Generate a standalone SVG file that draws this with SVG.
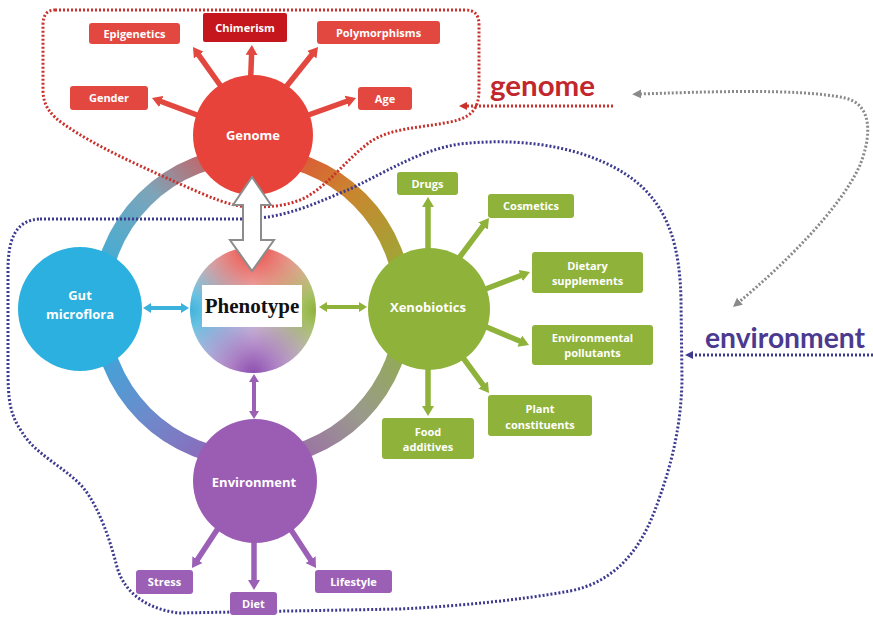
<svg xmlns="http://www.w3.org/2000/svg" width="873" height="626" viewBox="0 0 873 626">
<defs>
<style>
.lbl{font-family:"Open Sans","Liberation Sans",sans-serif;font-weight:bold;font-size:11px;fill:#fff;text-anchor:middle}
.node{font-family:"Open Sans","Liberation Sans",sans-serif;font-weight:bold;font-size:13px;fill:#fff;text-anchor:middle}
.ring{fill:none;stroke-width:17}
.dot{fill:none;stroke-width:3;stroke-dasharray:2 2}
.arr{stroke-width:5.5;fill:none}
.darr{stroke-width:4;fill:none}
.rbox{fill:#e2483f}
.gbox{fill:#8fb23a}
.pbox{fill:#9b5fb6}
</style>
<linearGradient id="gTL" gradientUnits="userSpaceOnUse" x1="100" y1="307" x2="252" y2="155"><stop offset="0" stop-color="#2bb0df"/><stop offset="0.55" stop-color="#7ea4b8"/><stop offset="1" stop-color="#e8433b"/></linearGradient>
<linearGradient id="gTR" gradientUnits="userSpaceOnUse" x1="252" y1="155" x2="404" y2="307"><stop offset="0" stop-color="#e8433b"/><stop offset="0.45" stop-color="#c9862e"/><stop offset="1" stop-color="#8fb23a"/></linearGradient>
<linearGradient id="gBR" gradientUnits="userSpaceOnUse" x1="404" y1="307" x2="252" y2="459"><stop offset="0" stop-color="#8fb23a"/><stop offset="0.5" stop-color="#9a9a8c"/><stop offset="1" stop-color="#9b5cb4"/></linearGradient>
<linearGradient id="gBL" gradientUnits="userSpaceOnUse" x1="252" y1="459" x2="100" y2="307"><stop offset="0" stop-color="#9b5cb4"/><stop offset="0.5" stop-color="#6b8ccc"/><stop offset="1" stop-color="#2bb0df"/></linearGradient>
<radialGradient id="phR" gradientUnits="userSpaceOnUse" cx="253" cy="247" r="75"><stop offset="0" stop-color="#e8433b"/><stop offset="1" stop-color="#e8433b" stop-opacity="0"/></radialGradient>
<radialGradient id="phG" gradientUnits="userSpaceOnUse" cx="316" cy="310" r="70"><stop offset="0" stop-color="#8fb23a"/><stop offset="1" stop-color="#8fb23a" stop-opacity="0"/></radialGradient>
<radialGradient id="phP" gradientUnits="userSpaceOnUse" cx="253" cy="373" r="75"><stop offset="0" stop-color="#8e4fb0"/><stop offset="1" stop-color="#8e4fb0" stop-opacity="0"/></radialGradient>
<radialGradient id="phC" gradientUnits="userSpaceOnUse" cx="190" cy="310" r="70"><stop offset="0" stop-color="#3fb3dc"/><stop offset="1" stop-color="#3fb3dc" stop-opacity="0"/></radialGradient>
<clipPath id="phClip"><circle cx="253" cy="310" r="63"/></clipPath>
<marker id="mR" viewBox="0 0 10 12" refX="1" refY="6" markerWidth="10" markerHeight="12" markerUnits="userSpaceOnUse" orient="auto"><path d="M0,0 L10,6 L0,12 Z" fill="#e2483f"/></marker>
<marker id="mG" viewBox="0 0 10 12" refX="1" refY="6" markerWidth="10" markerHeight="12" markerUnits="userSpaceOnUse" orient="auto"><path d="M0,0 L10,6 L0,12 Z" fill="#8fb23a"/></marker>
<marker id="mP" viewBox="0 0 10 12" refX="1" refY="6" markerWidth="10" markerHeight="12" markerUnits="userSpaceOnUse" orient="auto"><path d="M0,0 L10,6 L0,12 Z" fill="#9b5fb6"/></marker>
<marker id="dC" viewBox="0 0 8 10" refX="0.5" refY="5" markerWidth="8" markerHeight="10" markerUnits="userSpaceOnUse" orient="auto-start-reverse"><path d="M0,0 L8,5 L0,10 Z" fill="#3bb2dc"/></marker>
<marker id="dG" viewBox="0 0 8 10" refX="0.5" refY="5" markerWidth="8" markerHeight="10" markerUnits="userSpaceOnUse" orient="auto-start-reverse"><path d="M0,0 L8,5 L0,10 Z" fill="#8fb23a"/></marker>
<marker id="dP" viewBox="0 0 8 10" refX="0.5" refY="5" markerWidth="8" markerHeight="10" markerUnits="userSpaceOnUse" orient="auto-start-reverse"><path d="M0,0 L8,5 L0,10 Z" fill="#9b5fb6"/></marker>
<marker id="tR" viewBox="0 0 8 8" refX="1" refY="4" markerWidth="8" markerHeight="8" markerUnits="userSpaceOnUse" orient="auto"><path d="M0,0 L8,4 L0,8 Z" fill="#c8312c"/></marker>
<marker id="tB" viewBox="0 0 8 8" refX="1" refY="4" markerWidth="8" markerHeight="8" markerUnits="userSpaceOnUse" orient="auto"><path d="M0,0 L8,4 L0,8 Z" fill="#3d3a8f"/></marker>
<marker id="tK" viewBox="0 0 8 8" refX="1" refY="4" markerWidth="9" markerHeight="9" markerUnits="userSpaceOnUse" orient="auto-start-reverse"><path d="M0,0 L8,4 L0,8 Z" fill="#8a8a8a"/></marker>
</defs>
<rect width="873" height="626" fill="#fff"/>

<g id="ring">
<path class="ring" stroke="url(#gTL)" d="M100,307 A152,152 0 0 1 252,155"/>
<path class="ring" stroke="url(#gTR)" d="M252,155 A152,152 0 0 1 404,307"/>
<path class="ring" stroke="url(#gBR)" d="M404,307 A152,152 0 0 1 252,459"/>
<path class="ring" stroke="url(#gBL)" d="M252,459 A152,152 0 0 1 100,307"/>
</g>

<g id="boundaries">
<path id="genome-boundary" class="dot" stroke="#c8312c" d="M55,10 L465,10 C475,10 479,15 479,25 L479,90 C479,110 470,118 450,122 C420,128 390,128 370,142 C345,160 325,190 300,200 C285,206 270,207 253,207 C230,207 210,197 180,184 C140,166 95,146 65,125 C50,115 43,105 43,90 L43,25 C43,15 47,10 55,10 Z"/>
<path id="environment-boundary" class="dot" stroke="#3d3a8f" d="M40,219 L243,219 C285,219 318,202 350,189 C390,170 420,150 460,144 C530,136 600,150 640,185 C670,212 680,250 681,300 L682,380 C681,430 670,470 655,510 C640,550 615,582 570,591 C520,600 460,606 400,609 L180,613 C150,610 125,595 117,567 C110,540 100,510 85,490 C70,470 35,455 22,432 C10,415 8,400 8,370 L8,270 C8,240 15,220 40,219 Z"/>
</g>

<g id="connectors">
<line class="arr" stroke="#e2483f" marker-end="url(#mR)" x1="225" y1="92" x2="198.2" y2="54.3"/>
<line class="arr" stroke="#e2483f" marker-end="url(#mR)" x1="250" y1="95" x2="251.6" y2="54"/>
<line class="arr" stroke="#e2483f" marker-end="url(#mR)" x1="282" y1="92" x2="312.4" y2="54"/>
<line class="arr" stroke="#e2483f" marker-end="url(#mR)" x1="205" y1="118" x2="160.4" y2="101.2"/>
<line class="arr" stroke="#e2483f" marker-end="url(#mR)" x1="300" y1="118" x2="347.5" y2="101"/>
<line class="arr" stroke="#8fb23a" marker-end="url(#mG)" x1="428" y1="270" x2="428" y2="206"/>
<line class="arr" stroke="#8fb23a" marker-end="url(#mG)" x1="450" y1="270" x2="483.6" y2="225.2"/>
<line class="arr" stroke="#8fb23a" marker-end="url(#mG)" x1="470" y1="295" x2="521.6" y2="275.2"/>
<line class="arr" stroke="#8fb23a" marker-end="url(#mG)" x1="470" y1="320" x2="520.7" y2="341.5"/>
<line class="arr" stroke="#8fb23a" marker-end="url(#mG)" x1="450" y1="340" x2="483.7" y2="385.8"/>
<line class="arr" stroke="#8fb23a" marker-end="url(#mG)" x1="428" y1="345" x2="428" y2="407"/>
<line class="arr" stroke="#9b5fb6" marker-end="url(#mP)" x1="230" y1="510" x2="196.9" y2="560.5"/>
<line class="arr" stroke="#9b5fb6" marker-end="url(#mP)" x1="254" y1="510" x2="254" y2="581"/>
<line class="arr" stroke="#9b5fb6" marker-end="url(#mP)" x1="278" y1="510" x2="311.1" y2="560.5"/>
<line class="darr" stroke="#3bb2dc" marker-start="url(#dC)" marker-end="url(#dC)" x1="150.5" y1="308" x2="181.5" y2="308"/>
<line class="darr" stroke="#8fb23a" marker-start="url(#dG)" marker-end="url(#dG)" x1="326.5" y1="307" x2="359.5" y2="307"/>
<line class="darr" stroke="#9b5fb6" marker-start="url(#dP)" marker-end="url(#dP)" x1="254" y1="381.5" x2="254" y2="411.5"/>
<path class="dot" stroke="#c8312c" marker-end="url(#tR)" d="M613,106 L466,106"/>
<path class="dot" stroke="#3d3a8f" marker-end="url(#tB)" d="M873,355 L692,355"/>
<path class="dot" stroke="#8a8a8a" marker-start="url(#tK)" marker-end="url(#tK)" d="M640,94 C700,92 800,88 845,98 C875,105 870,140 860,165 C840,210 780,268 739,302"/>
</g>

<g id="genome">
<circle cx="253" cy="135" r="60" fill="#e8433b"/>
<text class="node" x="253" y="139.5">Genome</text>
</g>
<g id="gut-microflora">
<circle cx="80" cy="309" r="62" fill="#2bb0df"/>
<text class="node" x="80" y="300">Gut</text>
<text class="node" x="80" y="319">microflora</text>
</g>
<g id="xenobiotics">
<circle cx="429" cy="309" r="61" fill="#8fb23a"/>
<text class="node" x="428" y="312">Xenobiotics</text>
</g>
<g id="environment">
<circle cx="255" cy="481" r="62" fill="#9b5cb4"/>
<text class="node" x="254" y="487">Environment</text>
</g>
<g id="phenotype">
<circle cx="253" cy="310" r="63" fill="#f2f2f4"/>
<g clip-path="url(#phClip)">
<rect x="190" y="247" width="126" height="126" fill="url(#phC)"/>
<rect x="190" y="247" width="126" height="126" fill="url(#phG)"/>
<rect x="190" y="247" width="126" height="126" fill="url(#phP)"/>
<rect x="190" y="247" width="126" height="126" fill="url(#phR)"/>
</g>
<rect x="202" y="285" width="100" height="42" fill="#fff"/>
<text x="252" y="313" text-anchor="middle" font-family="'Liberation Serif',serif" font-weight="bold" font-size="21" fill="#111">Phenotype</text>
</g>
<g id="genome-phenotype-arrow">
<path d="M252,177 L271,205 L261,205 L261,240 L274,240 L252,271 L230,240 L243,240 L243,205 L233,205 Z" fill="#fff" stroke="#8c8c8c" stroke-width="2" stroke-linejoin="miter"/>
</g>

<g id="epigenetics"><rect class="rbox" x="89" y="23" width="91" height="21" rx="3"/><text class="lbl" x="134.5" y="37.5">Epigenetics</text></g>
<g id="chimerism"><rect x="203" y="13" width="84" height="29" rx="2" fill="#c4161c"/><text class="lbl" x="245" y="31.5">Chimerism</text></g>
<g id="polymorphisms"><rect class="rbox" x="317" y="21" width="123" height="23" rx="3"/><text class="lbl" x="378.5" y="36.5">Polymorphisms</text></g>
<g id="gender"><rect class="rbox" x="70" y="86" width="78" height="24" rx="3"/><text class="lbl" x="109" y="102">Gender</text></g>
<g id="age"><rect class="rbox" x="358" y="87" width="54" height="23" rx="3"/><text class="lbl" x="385" y="102.5">Age</text></g>

<g id="drugs"><rect class="gbox" x="397" y="172" width="61" height="23" rx="3"/><text class="lbl" x="427.5" y="187.5">Drugs</text></g>
<g id="cosmetics"><rect class="gbox" x="488" y="194" width="86" height="24" rx="3"/><text class="lbl" x="531" y="210">Cosmetics</text></g>
<g id="dietary-supplements"><rect class="gbox" x="532" y="252" width="111" height="41" rx="3"/><text class="lbl" x="587.5" y="270">Dietary</text><text class="lbl" x="587.5" y="284.5">supplements</text></g>
<g id="environmental-pollutants"><rect class="gbox" x="532" y="325" width="121" height="40" rx="3"/><text class="lbl" x="592.5" y="342">Environmental</text><text class="lbl" x="592.5" y="357">pollutants</text></g>
<g id="plant-constituents"><rect class="gbox" x="488" y="395" width="104" height="41" rx="3"/><text class="lbl" x="540" y="413">Plant</text><text class="lbl" x="540" y="428.5">constituents</text></g>
<g id="food-additives"><rect class="gbox" x="382" y="418" width="92" height="41" rx="3"/><text class="lbl" x="428" y="435.5">Food</text><text class="lbl" x="428" y="451">additives</text></g>

<g id="stress"><rect class="pbox" x="136" y="570" width="57" height="24" rx="3"/><text class="lbl" x="164.5" y="586">Stress</text></g>
<g id="diet"><rect class="pbox" x="230" y="592" width="47" height="23" rx="3"/><text class="lbl" x="253.5" y="607.5">Diet</text></g>
<g id="lifestyle"><rect class="pbox" x="315" y="570" width="77" height="23" rx="3"/><text class="lbl" x="353.5" y="585.5">Lifestyle</text></g>

<g id="genome-label"><text x="490" y="96" font-family="Lato,'Open Sans',sans-serif" font-weight="bold" font-size="28" fill="#c1272d" textLength="105" lengthAdjust="spacingAndGlyphs">genome</text></g>
<g id="environment-label"><text x="705" y="348" font-family="Lato,'Open Sans',sans-serif" font-weight="bold" font-size="29" fill="#4b3a8f" textLength="160" lengthAdjust="spacingAndGlyphs">environment</text></g>
</svg>
